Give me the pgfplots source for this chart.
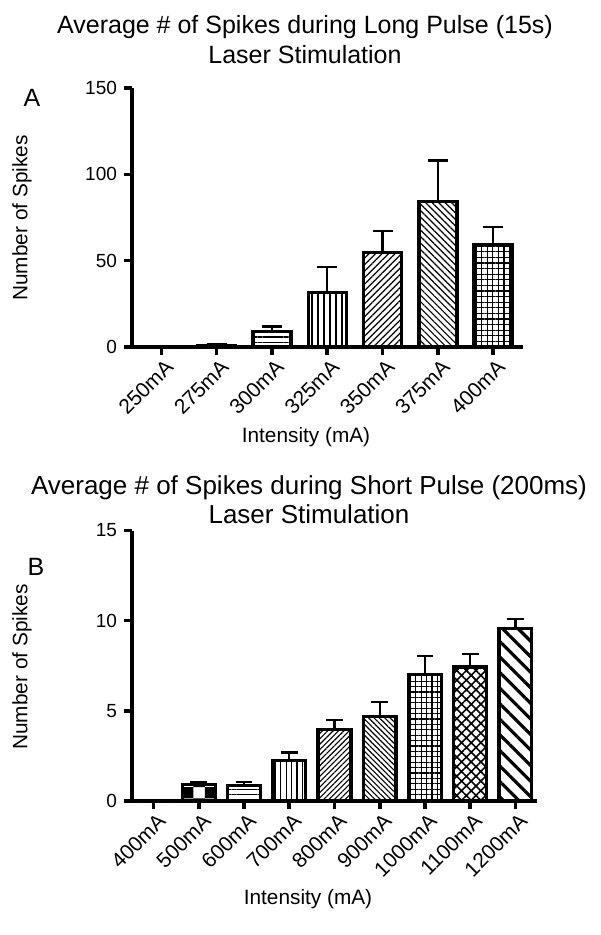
\documentclass[border=0pt]{standalone}
\usepackage{pgfplots}
\pgfplotsset{compat=1.18}
\usepackage{fontspec}
\setmainfont{Liberation Sans}
\usetikzlibrary{patterns,patterns.meta}

\newcommand{\ttl}{\fontsize{12.5}{15}\selectfont}
\newcommand{\ttlb}{\fontsize{13}{14.5}\selectfont}
\newcommand{\lbl}{\fontsize{10.4}{12}\selectfont}
\newcommand{\tkl}{\fontsize{9.5}{11}\selectfont}
\newcommand{\tkx}{\fontsize{10.5}{12}\selectfont}

\pgfplotsset{
  spk/.style={
    scale only axis, clip=false,
    axis lines=left,
    axis line style={-, line width=1.8pt},
    ymin=0,
    tick align=outside, major tick length=4pt,
    every tick/.style={black, line width=1.8pt},
    x tick label style={rotate=45, anchor=north east, font=\tkx, inner sep=1pt, xshift=1pt, yshift=-1pt},
    y tick label style={font=\tkl, /pgf/number format/assume math mode=true},
    anchor=south west,
  },
  bars/.style={
    ybar, bar shift=0pt, draw=black, line width=1.7pt, pattern color=black,
    error bars/y dir=plus, error bars/y explicit,
    error bars/error bar style={line width=1.2pt, black},
    error bars/error mark options={rotate=90, line width=1.2pt, mark size=#1, black},
  },
}

\begin{document}
\begin{tikzpicture}[x=0.5pt,y=-0.5pt]
\path[use as bounding box] (0,0) rectangle (600,935);
\coordinate (PA) at (132,347);
\coordinate (PB) at (132,801);

% ---------------- Panel A ----------------
\begin{axis}[spk, at={(PA)},
  width=195.5pt, height=129.5pt,
  xmin=-0.53, xmax=6.54, ymax=150,
  ytick={0,50,100,150},
  xtick={0,...,6},
  xticklabels={250mA,275mA,300mA,325mA,350mA,375mA,400mA},
  bar width=19pt]
\addplot[bars=5pt, fill=white] coordinates {(0,0)};
\addplot[bars=5pt, fill=black] coordinates {(1,1.0) +- (0,0.5)};
\addplot[bars=5pt, pattern={Lines[angle=0,distance=2.6pt,line width=0.6pt]}] coordinates {(2,8.9) +- (0,2.9)};
\addplot[bars=5pt, pattern={Lines[angle=90,distance=3pt,line width=0.6pt]}] coordinates {(3,31.4) +- (0,15.1)};
\addplot[bars=5pt, pattern={Lines[angle=45,distance=2.3pt,line width=0.6pt]}] coordinates {(4,54.8) +- (0,12.5)};
\addplot[bars=5pt, pattern={Lines[angle=-45,distance=2.3pt,line width=0.6pt]}] coordinates {(5,84.1) +- (0,23.8)};
\addplot[bars=5pt, pattern={Hatch[angle=0,distance=2.8pt,line width=0.6pt]}] coordinates {(6,59.5) +- (0,10.0)};
\end{axis}

\node[font=\ttl, align=center] at (305,40) {Average \# of Spikes during Long Pulse (15s)\\Laser Stimulation};
\node[font=\ttl] at (32,98) {A};
\node[font=\lbl, rotate=90] at (22,218) {Number of Spikes};
\node[font=\lbl] at (306,437) {Intensity (mA)};

% ---------------- Panel B ----------------
\begin{axis}[spk, at={(PB)},
  width=202.5pt, height=135.25pt,
  xmin=-0.48, xmax=8.48, ymax=15,
  ytick={0,5,10,15},
  xtick={0,...,8},
  xticklabels={400mA,500mA,600mA,700mA,800mA,900mA,1000mA,1100mA,1200mA},
  bar width=16.35pt]
\addplot[bars=4.2pt, fill=white] coordinates {(0,0)};
\addplot[bars=4.2pt, pattern=checkerboard] coordinates {(1,0.92) +- (0,0.12)};
\addplot[bars=4.2pt, pattern={Lines[angle=0,distance=2.6pt,line width=0.6pt]}] coordinates {(2,0.85) +- (0,0.22)};
\addplot[bars=4.2pt, pattern={Lines[angle=90,distance=2.7pt,line width=0.6pt]}] coordinates {(3,2.24) +- (0,0.46)};
\addplot[bars=4.2pt, pattern={Lines[angle=45,distance=1.9pt,line width=0.55pt]}] coordinates {(4,3.96) +- (0,0.53)};
\addplot[bars=4.2pt, pattern={Lines[angle=-45,distance=1.9pt,line width=0.55pt]}] coordinates {(5,4.68) +- (0,0.81)};
\addplot[bars=4.2pt, pattern={Hatch[angle=0,distance=2.7pt,line width=0.6pt]}] coordinates {(6,7.03) +- (0,1.01)};
\addplot[bars=4.2pt, pattern={Hatch[angle=45,distance=3.4pt,line width=0.8pt]}] coordinates {(7,7.43) +- (0,0.72)};
\addplot[bars=4.2pt, pattern={Lines[angle=-45,distance=5.5pt,line width=1.6pt]}] coordinates {(8,9.58) +- (0,0.50)};
\end{axis}

\node[font=\ttlb, align=center] at (309,500) {Average \# of Spikes during Short Pulse (200ms)\\Laser Stimulation};
\node[font=\ttl] at (36,567) {B};
\node[font=\lbl, rotate=90] at (22,667) {Number of Spikes};
\node[font=\lbl] at (308,899) {Intensity (mA)};
\end{tikzpicture}
\end{document}
